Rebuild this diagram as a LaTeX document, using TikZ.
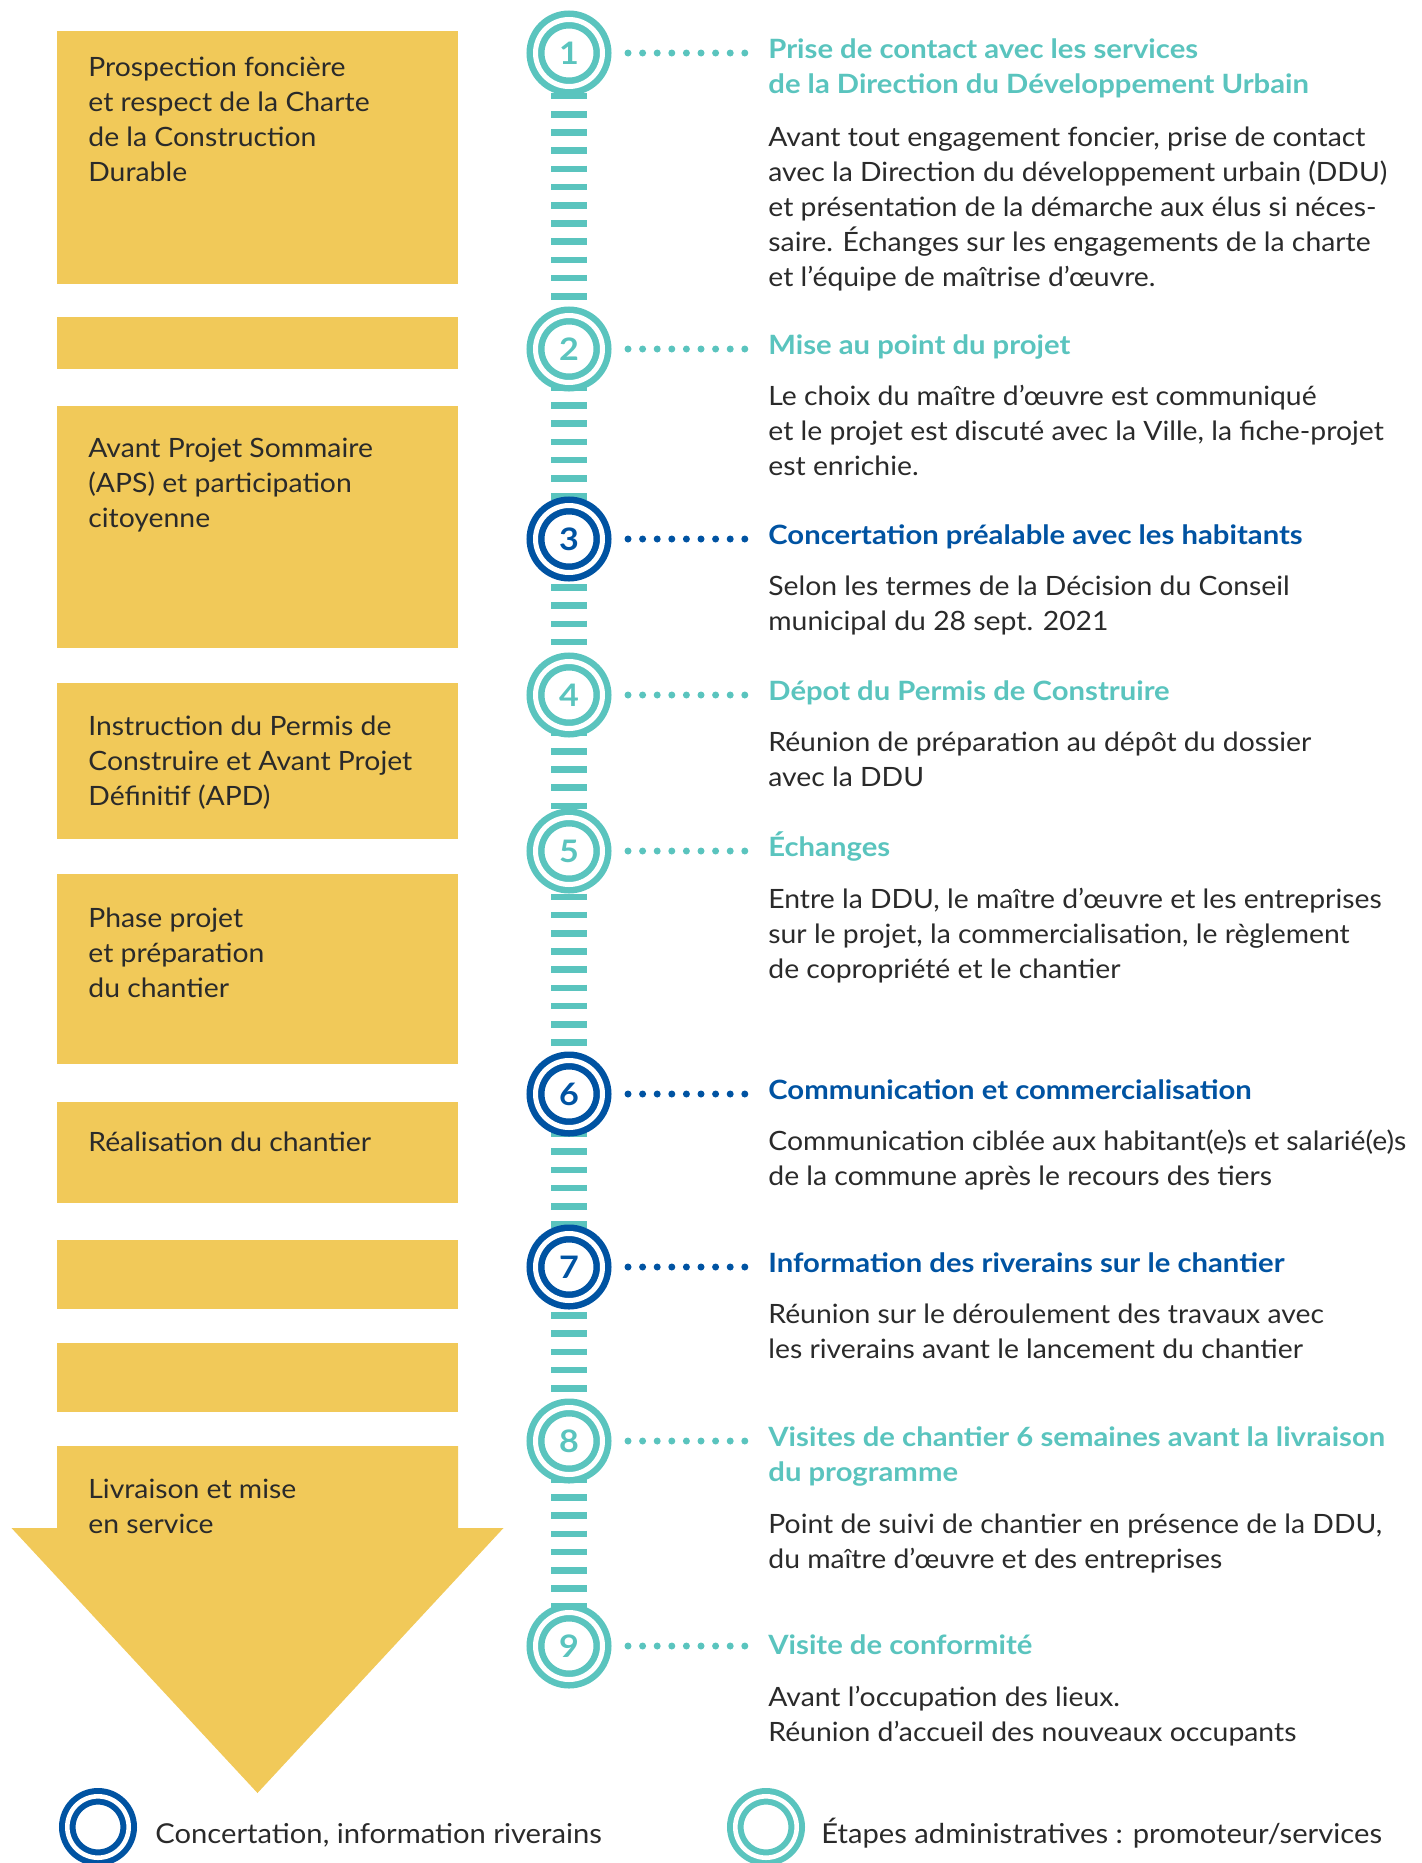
\documentclass[tikz,border=0pt]{standalone}
\usepackage{fontspec}
\setmainfont{Lato}[FakeStretch=1.065,BoldFeatures={FakeStretch=1.1}]
\usetikzlibrary{backgrounds}
\definecolor{stepteal}{RGB}{90,196,190}
\definecolor{stepblue}{RGB}{0,83,162}
\definecolor{phaseyellow}{RGB}{241,201,89}
\definecolor{ink}{RGB}{42,42,42}
\tikzset{
  phase/.style={fill=phaseyellow,draw=none,inner sep=0pt,outer sep=0pt,minimum width=200.5pt,anchor=north west},
  txt/.style={font=\fontsize{13.3}{17.5}\selectfont,text=ink,inner sep=0pt,align=left,anchor=base west},
  head/.style={txt,font=\fontsize{13.3}{17.5}\selectfont\bfseries,text=#1},
  ring/.style={circle,minimum size=33.5pt,inner sep=0pt,outer sep=0pt,fill=white,draw=#1,double=white,double distance=2.5pt,line width=3.25pt,text=#1,font=\fontsize{15.5}{15.5}\selectfont\bfseries},
  legend ring/.style={circle,minimum size=30.7pt,inner sep=0pt,outer sep=0pt,draw=#1,double=white,double distance=2.3pt,line width=3pt},
  dotline/.style={draw=#1,line width=3.5pt,line cap=round,dash pattern=on 0pt off 7.3pt,shorten <=12.75pt,shorten >=11.5pt},
  ladder/.style={draw=stepteal,line width=18pt,dash pattern=on 3.25pt off 5.85pt,dash phase=7.4pt}
}
\begin{document}
\begin{tikzpicture}[x=0.5pt,y=-0.5pt]
  \useasboundingbox (0,0) rectangle (1421,1863);
  \clip (0,0) rectangle (1421,1863);
  % phases (left column), text nodes sit on the baseline of their last line
  \node[phase,minimum height=126.5pt] (p1) at (57,31) {};
  \node[phase,minimum height=26pt] (p2) at (57,317) {};
  \node[phase,minimum height=121pt] (p3) at (57,406) {};
  \node[phase,minimum height=78pt] (p4) at (57,683) {};
  \node[phase,minimum height=95pt] (p5) at (57,874) {};
  \node[phase,minimum height=50.5pt] (p6) at (57,1102) {};
  \node[phase,minimum height=34.5pt] (p7) at (57,1240) {};
  \node[phase,minimum height=34.5pt] (p8) at (57,1343) {};
  \fill[phaseyellow] (57,1446) -- (458,1446) -- (458,1528) -- (503.5,1528) -- (257.5,1793) -- (11.5,1528) -- (57,1528) -- cycle;
  \node[txt] (p1t) at (88,181) {Prospection foncière\\et respect de la Charte\\de la Construction\\Durable};
  \node[txt] (p3t) at (88,527) {Avant Projet Sommaire\\(APS) et participation\\citoyenne};
  \node[txt] (p4t) at (88,805) {Instruction du Permis de\\Construire et Avant Projet\\Définitif (APD)};
  \node[txt] (p5t) at (88,997) {Phase projet\\et préparation\\du chantier};
  \node[txt] (p6t) at (88,1151) {Réalisation du chantier};
  \node[txt] (p9t) at (88,1533) {Livraison et mise\\en service};
  % steps
  \node[ring=stepteal] (c1) at (569,53) {1};
  \node[ring=stepteal] (c2) at (569,349) {2};
  \node[ring=stepblue] (c3) at (569,539) {3};
  \node[ring=stepteal] (c4) at (569,695) {4};
  \node[ring=stepteal] (c5) at (569,851) {5};
  \node[ring=stepblue] (c6) at (569,1094) {6};
  \node[ring=stepblue] (c7) at (569,1267) {7};
  \node[ring=stepteal] (c8) at (569,1441) {8};
  \node[ring=stepteal] (c9) at (569,1646) {9};
  \begin{pgfonlayer}{background}
    \draw[ladder] (c1.center) -- (c9.center);
  \end{pgfonlayer}
  \node[head=stepteal] (h1) at (768,93) {Prise de contact avec les services\\de la Direction du Développement Urbain};
  \node[txt] (b1) at (768,286) {Avant tout engagement foncier, prise de contact\\avec la Direction du développement urbain (DDU)\\et présentation de la démarche aux élus si néces-\\saire. Échanges sur les engagements de la charte\\et l’équipe de maîtrise d’œuvre.};
  \node[head=stepteal] (h2) at (768,354) {Mise au point du projet};
  \node[txt] (b2) at (768,475) {Le choix du maître d’œuvre est communiqué\\et le projet est discuté avec la Ville, la fiche-projet\\est enrichie.};
  \node[head=stepblue] (h3) at (768,544) {Concertation préalable avec les habitants};
  \node[txt] (b3) at (768,630) {Selon les termes de la Décision du Conseil\\municipal du 28 sept. 2021};
  \node[head=stepteal] (h4) at (768,700) {Dépot du Permis de Construire};
  \node[txt] (b4) at (768,786) {Réunion de préparation au dépôt du dossier\\avec la DDU};
  \node[head=stepteal] (h5) at (768,856) {Échanges};
  \node[txt] (b5) at (768,978) {Entre la DDU, le maître d’œuvre et les entreprises\\sur le projet, la commercialisation, le règlement\\de copropriété et le chantier};
  \node[head=stepblue] (h6) at (768,1099) {Communication et commercialisation};
  \node[txt] (b6) at (768,1185) {Communication ciblée aux habitant(e)s et salarié(e)s\\de la commune après le recours des tiers};
  \node[head=stepblue] (h7) at (768,1272) {Information des riverains sur le chantier};
  \node[txt] (b7) at (768,1358) {Réunion sur le déroulement des travaux avec\\les riverains avant le lancement du chantier};
  \node[head=stepteal] (h8) at (768,1481) {Visites de chantier 6 semaines avant la livraison\\du programme};
  \node[txt] (b8) at (768,1568) {Point de suivi de chantier en présence de la DDU,\\du maître d’œuvre et des entreprises};
  \node[head=stepteal] (h9) at (768,1654) {Visite de conformité};
  \node[txt] (b9) at (768,1741) {Avant l’occupation des lieux.\\Réunion d’accueil des nouveaux occupants};
  % dotted leaders
  \draw[dotline=stepteal] (c1.east) -- (c1.east -| h1.west);
  \draw[dotline=stepteal] (c2.east) -- (c2.east -| h2.west);
  \draw[dotline=stepblue] (c3.east) -- (c3.east -| h3.west);
  \draw[dotline=stepteal] (c4.east) -- (c4.east -| h4.west);
  \draw[dotline=stepteal] (c5.east) -- (c5.east -| h5.west);
  \draw[dotline=stepblue] (c6.east) -- (c6.east -| h6.west);
  \draw[dotline=stepblue] (c7.east) -- (c7.east -| h7.west);
  \draw[dotline=stepteal] (c8.east) -- (c8.east -| h8.west);
  \draw[dotline=stepteal] (c9.east) -- (c9.east -| h9.west);
  % legend
  \node[legend ring=stepblue] (lb) at (98,1827) {};
  \node[txt,font=\fontsize{13.7}{17.5}\selectfont] (lbt) at (155,1843) {Concertation, information riverains};
  \node[legend ring=stepteal] (lt) at (766,1827) {};
  \node[txt,font=\fontsize{13.7}{17.5}\selectfont] (ltt) at (821,1843) {Étapes administratives : promoteur/services};
\end{tikzpicture}
\end{document}
